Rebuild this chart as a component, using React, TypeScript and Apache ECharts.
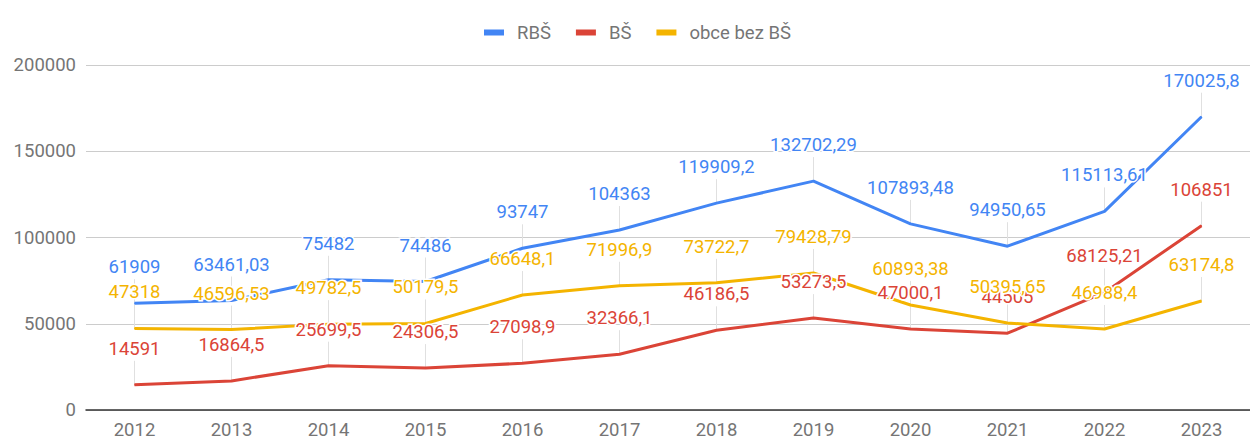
import React, { useEffect, useRef } from "react";
import * as echarts from "echarts";

const years = ["2012", "2013", "2014", "2015", "2016", "2017", "2018", "2019", "2020", "2021", "2022", "2023"];
const rbs = [61909, 63461.03, 75482, 74486, 93747, 104363, 119909.2, 132702.29, 107893.48, 94950.65, 115113.61, 170025.8];
const bs = [14591, 16864.5, 25699.5, 24306.5, 27098.9, 32366.1, 46186.5, 53273.5, 47000.1, 44505, 68125.21, 106851];
const obce = [47318, 46596.53, 49782.5, 50179.5, 66648.1, 71996.9, 73722.7, 79428.79, 60893.38, 50395.65, 46988.4, 63174.8];
const seriesNames = ["RBŠ", "BŠ", "obce bez BŠ"];
const colors = ["#4285F4", "#DB4437", "#F4B400"];

const FONT = "Roboto, 'Noto Sans', sans-serif";
const FS = 18.5;
const STEM = 26;

export default function App() {
  const ref = useRef<HTMLDivElement>(null);
  useEffect(() => {
    if (!ref.current) return;
    const chart = echarts.init(ref.current, undefined, { renderer: "svg" });
    const all = [rbs, bs, obce];
    const lineSeries: any[] = all.map((d, k) => ({
      name: seriesNames[k],
      type: "line",
      data: d,
      z: 5,
      symbol: "circle",
      symbolSize: 1,
      showSymbol: true,
      lineStyle: { color: colors[k], width: 3 },
      itemStyle: { color: colors[k] },
      label: {
        show: true,
        position: "top",
        distance: STEM,
        color: colors[k],
        fontSize: FS,
        fontFamily: FONT,
        textBorderColor: "#fff",
        textBorderWidth: 3,
        formatter: (p: any) => String(p.value).replace(".", ","),
      },
      emphasis: { disabled: true },
    }));
    const stemSeries: any[] = all.map((d, k) => ({
      name: seriesNames[k] + "_stem",
      type: "custom",
      z: 1,
      silent: true,
      data: d.map((v, i) => [i, v]),
      renderItem: (params: any, api: any) => {
        const p = api.coord([api.value(0), api.value(1)]);
        return {
          type: "line",
          shape: { x1: p[0], y1: p[1], x2: p[0], y2: p[1] - STEM + 2 },
          style: { stroke: "#e0e0e0", lineWidth: 1 },
        };
      },
    }));
    chart.setOption({
      animation: false,
      color: colors,
      legend: {
        data: seriesNames.map((n) => ({ name: n, icon: "rect" })),
        left: 479,
        top: 18,
        itemWidth: 20,
        itemHeight: 6,
        itemGap: 25,
        textStyle: { color: "#757575", fontSize: FS, fontFamily: FONT, padding: [0, 0, 0, 8] },
      },
      grid: { left: 86, right: -7, top: 65, bottom: 27, containLabel: false },
      xAxis: {
        type: "category",
        data: years,
        boundaryGap: true,
        axisLine: { lineStyle: { color: "#333", width: 1.5 } },
        axisTick: { show: false },
        axisLabel: { color: "#757575", fontSize: FS, fontFamily: FONT, margin: 10 },
      },
      yAxis: {
        type: "value",
        min: 0,
        max: 200000,
        interval: 50000,
        axisLine: { show: false },
        axisTick: { show: false },
        splitLine: { lineStyle: { color: "#cccccc", width: 1 } },
        axisLabel: {
          color: "#757575",
          fontSize: FS,
          fontFamily: FONT,
          margin: 10,
          formatter: (v: number) => String(v),
        },
      },
      series: [...stemSeries, ...lineSeries],
    });
    return () => chart.dispose();
  }, []);
  return (
    <div
      ref={ref}
      style={{ position: "absolute", left: 0, top: 0, width: 1250, height: 439, background: "#fff" }}
    />
  );
}
